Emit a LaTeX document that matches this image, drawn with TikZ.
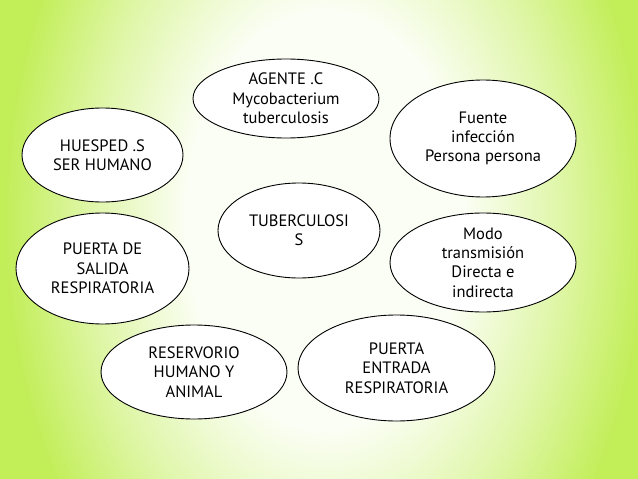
\documentclass[tikz,border=0pt]{standalone}
\usepackage{fontspec}
\setmainfont{PT Sans}
\usepackage{tikz}
\usetikzlibrary{shapes, positioning}
\definecolor{limebg}{HTML}{C2EE58}
\definecolor{palebg}{HTML}{FBFEF4}
\pgfdeclareradialshading{bgglow}{\pgfpoint{0bp}{0bp}}{color(0bp)=(palebg); color(5bp)=(palebg); color(8.5bp)=(limebg!50!palebg); color(11.5bp)=(limebg); color(50bp)=(limebg)}
\tikzstyle{bubble} = [ellipse, draw=black, line width=0.9pt, fill=white, align=center, inner sep=-4pt, font=\fontsize{16.5}{19.3}\selectfont]

\begin{document}
\begin{tikzpicture}[x=1pt, y=-1pt]
	% background
	\useasboundingbox (0, 0) rectangle (638, 479);
	\begin{scope}
		\clip (0, 0) rectangle (638, 479);
		\shade [shading=bgglow] (325, 220) ellipse (700 and 1050);
	\end{scope}

	\node (Agente) [bubble, minimum width=186pt, minimum height=79pt] at (286, 98.5) {AGENTE .C\\Mycobacterium\\tuberculosis};
	\node (Huesped) [bubble, minimum width=161pt, minimum height=94pt] at (102.5, 155) {HUESPED .S\\SER HUMANO};
	\node (Fuente) [bubble, minimum width=186pt, minimum height=117pt] at (483, 138.5) {Fuente\\infección\\Persona persona};
	\node (Tbc) [bubble, minimum width=162pt, minimum height=95pt] at (299, 230.5) {TUBERCULOSI\\S};
	\node (Salida) [bubble, minimum width=173pt, minimum height=111pt] at (102.5, 268.5) {PUERTA DE\\SALIDA\\RESPIRATORIA};
	\node (Modo) [bubble, minimum width=186pt, minimum height=99pt] at (483, 262.5) {Modo\\transmisión\\Directa e\\indirecta};
	\node (Reservorio) [bubble, minimum width=186pt, minimum height=94pt] at (194, 372) {RESERVORIO\\HUMANO Y\\ANIMAL};
	\node (Entrada) [bubble, minimum width=197pt, minimum height=106pt] at (396.5, 368) {PUERTA\\ENTRADA\\RESPIRATORIA};

\end{tikzpicture}
\end{document}
